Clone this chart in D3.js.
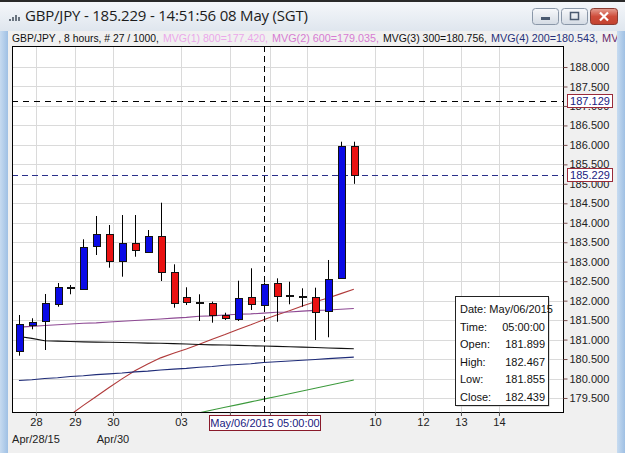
<!DOCTYPE html>
<html>
<head>
<meta charset="utf-8">
<script src="https://cdn.jsdelivr.net/npm/d3@7"></script>
<style>
body { margin: 0; background: #f0f0f0; }
svg { display: block; font-family: "Liberation Sans", Arial, sans-serif; }
</style>
</head>
<body>
<div id="chart-area"></div>
<script>
// GBP/JPY 8 hour bars, index 0 = first visible bar (Apr 28)
var opens  = [180.689, 181.382, 181.459, 181.906, 182.330, 182.299, 183.385, 183.704, 183.000, 183.472,
              183.257, 183.668, 182.743, 182.101, 181.960, 181.932, 181.632, 181.547, 182.101, 181.899,
              182.460, 182.150, 182.130, 182.101, 181.716, 182.589, 185.979];
var highs  = [181.631, 181.547, 182.171, 182.453, 182.402, 183.575, 184.174, 183.943, 184.199, 184.199,
              183.814, 184.515, 182.933, 182.343, 182.163, 181.975, 181.690, 182.512, 182.831, 182.467,
              182.573, 182.486, 182.317, 182.333, 183.044, 186.082, 186.082];
var lows   = [180.586, 181.264, 180.732, 181.844, 182.163, 182.273, 183.172, 182.846, 182.615, 183.128,
              183.250, 182.504, 181.819, 181.888, 181.477, 181.434, 181.503, 181.477, 181.760, 181.855,
              181.459, 181.906, 181.845, 180.989, 181.059, 182.574, 185.000];
var closes = [181.392, 181.459, 181.932, 182.343, 182.338, 183.385, 183.704, 183.000, 183.472, 183.283,
              183.668, 182.743, 181.947, 181.973, 181.955, 181.632, 181.562, 182.076, 181.932, 182.439,
              182.119, 182.145, 182.125, 181.716, 182.548, 185.979, 185.229];

// moving averages (null = not on screen)
var mvgBlack  = [181.08, 181.03, 180.97, 180.96, 180.95, 180.94, 180.935, 180.93, 180.925, 180.92,
                 180.91, 180.905, 180.895, 180.885, 180.875, 180.865, 180.86, 180.85, 180.84, 180.835,
                 180.825, 180.815, 180.805, 180.795, 180.785, 180.775, 180.765];
var mvgNavy   = [179.95, 179.97, 180.00, 180.02, 180.05, 180.07, 180.10, 180.12, 180.14, 180.17,
                 180.19, 180.22, 180.24, 180.26, 180.29, 180.31, 180.34, 180.36, 180.38, 180.41,
                 180.43, 180.45, 180.47, 180.49, 180.51, 180.53, 180.55];
var mvgPurple = [181.32, 181.34, 181.36, 181.38, 181.40, 181.42, 181.43, 181.45, 181.47, 181.49,
                 181.51, 181.53, 181.55, 181.57, 181.60, 181.61, 181.63, 181.65, 181.66, 181.68,
                 181.70, 181.71, 181.73, 181.75, 181.76, 181.78, 181.80];
var mvgRed    = [null, null, null, 178.84, 179.07, 179.31, 179.54, 179.77, 179.99, 180.20,
                 180.37, 180.53, 180.65, 180.76, 180.88, 181.01, 181.13, 181.26, 181.38, 181.51,
                 181.63, 181.74, 181.86, 181.97, 182.07, 182.18, 182.29];
var mvgGreen  = [null, null, null, null, null, null, null, null, null, null,
                 null, null, null, 179.05, 179.12, 179.19, 179.26, 179.33, 179.40, 179.47,
                 179.54, 179.61, 179.68, 179.75, 179.82, 179.89, 179.96];

var headerParts  = ["GBP/JPY , 8 hours, # 27 / 1000,", "MVG(1) 800=177.420,", "MVG(2) 600=179.035,",
                    "MVG(3) 300=180.756,", "MVG(4) 200=180.543,", "MV"];
var headerColors = ["#111", "#eba8ea", "#d77bd2", "#111", "#26307a", "#6a2a6a"];

var priceTicks = [179.5, 180, 180.5, 181, 181.5, 182, 182.5, 183, 183.5, 184, 184.5, 185, 185.5, 186, 186.5, 187, 187.5, 188];
// day ticks, in bar index units (weekend gaps are squeezed)
var dayTickPos    = [1.32, 4.35, 7.30, 12.58, 16.38, 19.49, 22.36, 27.64, 31.37, 34.32, 37.27];
var dayTickLabels = ["28", "29", "30", "03", "05", "06", "07", "10", "12", "13", "14"];
var monthTickPos    = [1.32, 7.30];
var monthTickLabels = ["Apr/28/15", "Apr/30"];

var cursorIndex = 19;
var cursorPrice = 187.129;
var cursorDate = "May/06/2015";
var cursorTime = "05:00:00";
var lastPrice = 185.229;

var width = 625, height = 453;
var plot = {left: 12, top: 46, right: 564, bottom: 412};

var svg = d3.select("#chart-area").append("svg").attr("width", width).attr("height", height);
var defs = svg.append("defs");

var tg = defs.append("linearGradient").attr("id", "titlebg").attr("x1", 0).attr("y1", 0).attr("x2", 0).attr("y2", 1);
tg.append("stop").attr("offset", "0%").attr("stop-color", "#f6f8fb");
tg.append("stop").attr("offset", "100%").attr("stop-color", "#dfe6ee");
var bg = defs.append("linearGradient").attr("id", "btnbg").attr("x1", 0).attr("y1", 0).attr("x2", 0).attr("y2", 1);
bg.append("stop").attr("offset", "0%").attr("stop-color", "#f8f9fb");
bg.append("stop").attr("offset", "100%").attr("stop-color", "#d4dbe4");
var cg = defs.append("linearGradient").attr("id", "closebg").attr("x1", 0).attr("y1", 0).attr("x2", 0).attr("y2", 1);
cg.append("stop").attr("offset", "0%").attr("stop-color", "#e6a093");
cg.append("stop").attr("offset", "50%").attr("stop-color", "#cf4c3a");
cg.append("stop").attr("offset", "100%").attr("stop-color", "#c2422f");
var sg = defs.append("linearGradient").attr("id", "sidebg").attr("x1", 0).attr("y1", 0).attr("x2", 1).attr("y2", 0);
sg.append("stop").attr("offset", "0%").attr("stop-color", "#c7dbf0");
sg.append("stop").attr("offset", "100%").attr("stop-color", "#9fc0e4");

defs.append("clipPath").attr("id", "plotclip").append("rect")
  .attr("x", plot.left).attr("y", plot.top).attr("width", plot.right - plot.left).attr("height", plot.bottom - plot.top);
defs.append("clipPath").attr("id", "headclip").append("rect")
  .attr("x", 10).attr("y", 30).attr("width", 607).attr("height", 16);

// window frame
svg.append("rect").attr("width", width).attr("height", height).attr("fill", "#f0f0f0");
svg.append("rect").attr("width", width).attr("height", 31).attr("fill", "url(#titlebg)");
svg.append("rect").attr("width", width).attr("height", 2).attr("fill", "#2a2a2a");
svg.append("rect").attr("x", 0).attr("y", 31).attr("width", 8).attr("height", height - 31).attr("fill", "url(#sidebg)");
svg.append("rect").attr("x", 617).attr("y", 31).attr("width", 8).attr("height", height - 31).attr("fill", "url(#sidebg)");

// title icon + text
[[9, 19, 2], [12, 17, 4], [15, 15, 6], [18, 17, 4]].forEach(function(b) {
  svg.append("rect").attr("x", b[0]).attr("y", b[1]).attr("width", 2).attr("height", b[2]).attr("fill", "#6a7480");
});
svg.append("text").attr("x", 25).attr("y", 21).attr("font-size", "15px").attr("fill", "#1c1c1c")
  .style("font-family", "'Open Sans', 'DejaVu Sans', sans-serif").attr("textLength", 283)
  .text("GBP/JPY - " + lastPrice.toFixed(3) + " - 14:51:56  08 May (SGT)");

// window buttons
svg.append("rect").attr("x", 532.5).attr("y", 8.5).attr("width", 26).attr("height", 16).attr("rx", 3)
  .attr("fill", "url(#btnbg)").attr("stroke", "#8a97a8");
svg.append("rect").attr("x", 541).attr("y", 17).attr("width", 9).attr("height", 3).attr("fill", "#4a5a70");
svg.append("rect").attr("x", 561.5).attr("y", 8.5).attr("width", 26).attr("height", 16).attr("rx", 3)
  .attr("fill", "url(#btnbg)").attr("stroke", "#8a97a8");
svg.append("rect").attr("x", 570.5).attr("y", 12.5).attr("width", 8).attr("height", 7)
  .attr("fill", "none").attr("stroke", "#4a5a70").attr("stroke-width", 1.5);
svg.append("rect").attr("x", 590.5).attr("y", 8.5).attr("width", 27).attr("height", 16).attr("rx", 3)
  .attr("fill", "url(#closebg)").attr("stroke", "#8a3a30");
svg.append("path").attr("d", "M600,12.5 L608,20.5 M608,12.5 L600,20.5").attr("stroke", "#fff").attr("stroke-width", 2.2);

// header line, each part placed like the terminal lays it out
var headX = [12, 163, 272, 383, 491, 602];
var head = svg.append("g").attr("clip-path", "url(#headclip)");
headerParts.forEach(function(t, i) {
  var last = i === headerParts.length - 1;
  var tx = head.append("text").attr("x", headX[i]).attr("y", 42).attr("font-size", "11px")
    .attr("fill", headerColors[i]).text(t);
  if (!last) tx.attr("textLength", headX[i + 1] - headX[i] - 4).attr("lengthAdjust", "spacingAndGlyphs");
});

// plot area
var x = d3.scaleLinear().domain([-0.54, 42.32]).range([plot.left, plot.right]);
var y = d3.scaleLinear().domain([179.14, 188.54]).range([plot.bottom, plot.top]);

svg.append("rect").attr("x", plot.left).attr("y", plot.top).attr("width", plot.right - plot.left)
  .attr("height", plot.bottom - plot.top).attr("fill", "#fff");

var grid = svg.append("g").attr("shape-rendering", "crispEdges").attr("stroke", "#dadada");
grid.selectAll(".hg").data(priceTicks).enter().append("line").attr("class", "hg")
  .attr("x1", plot.left).attr("x2", plot.right).attr("y1", function(d) { return Math.round(y(d)) + 0.5; })
  .attr("y2", function(d) { return Math.round(y(d)) + 0.5; });
grid.selectAll(".vg").data(dayTickPos).enter().append("line").attr("class", "vg")
  .attr("y1", plot.top).attr("y2", plot.bottom).attr("x1", function(d) { return Math.round(x(d)) + 0.5; })
  .attr("x2", function(d) { return Math.round(x(d)) + 0.5; });

var g = svg.append("g").attr("clip-path", "url(#plotclip)");

// moving averages
var mvgs = [
  {vals: mvgGreen, color: "#3c9a3c"},
  {vals: mvgRed, color: "#b03a3a"},
  {vals: mvgNavy, color: "#1f2c78"},
  {vals: mvgBlack, color: "#111"},
  {vals: mvgPurple, color: "#8e4a94"}
];
var line = d3.line().defined(function(d) { return d != null; })
  .x(function(d, i) { return x(i); }).y(function(d) { return y(d); });
mvgs.forEach(function(m) {
  g.append("path").attr("d", line(m.vals)).attr("fill", "none").attr("stroke", m.color).attr("stroke-width", 1.1);
});

// crosshair + last price lines
g.append("line").attr("x1", Math.round(x(cursorIndex)) + 0.5).attr("x2", Math.round(x(cursorIndex)) + 0.5)
  .attr("y1", plot.top).attr("y2", plot.bottom).attr("stroke", "#000").attr("stroke-dasharray", "6,4");
g.append("line").attr("x1", plot.left).attr("x2", plot.right)
  .attr("y1", Math.round(y(cursorPrice)) + 0.5).attr("y2", Math.round(y(cursorPrice)) + 0.5)
  .attr("stroke", "#000").attr("stroke-dasharray", "6,5");
g.append("line").attr("x1", plot.left).attr("x2", plot.right)
  .attr("y1", Math.round(y(lastPrice)) + 0.5).attr("y2", Math.round(y(lastPrice)) + 0.5)
  .attr("stroke", "#2a2f8a").attr("stroke-dasharray", "6,4");

// candles
var idx = d3.range(opens.length);
g.selectAll(".wick").data(idx).enter().append("line").attr("class", "wick")
  .attr("x1", function(i) { return Math.round(x(i)) + 0.5; }).attr("x2", function(i) { return Math.round(x(i)) + 0.5; })
  .attr("y1", function(i) { return y(highs[i]); }).attr("y2", function(i) { return y(lows[i]); })
  .attr("stroke", "#000");
g.selectAll(".body").data(idx).enter().append("rect").attr("class", "body")
  .attr("x", function(i) { return Math.round(x(i)) - 3; }).attr("width", 7)
  .attr("y", function(i) { return Math.round(y(Math.max(opens[i], closes[i]))) + 0.5; })
  .attr("height", function(i) { return Math.max(1, Math.round(Math.abs(y(opens[i]) - y(closes[i])))); })
  .attr("fill", function(i) { return closes[i] >= opens[i] ? "#0a0ae6" : "#ea1212"; })
  .attr("stroke", "#111").attr("shape-rendering", "crispEdges");

svg.append("rect").attr("x", plot.left + 0.5).attr("y", plot.top + 0.5).attr("width", plot.right - plot.left - 1)
  .attr("height", plot.bottom - plot.top).attr("fill", "none").attr("stroke", "#000");

// right price axis
var yAxis = d3.axisRight(y).tickValues(priceTicks).tickFormat(d3.format(".3f")).tickSize(4).tickPadding(2);
var ya = svg.append("g").attr("transform", "translate(" + (plot.right - 0.5) + ",0)").call(yAxis);
ya.select(".domain").remove();
ya.selectAll("line").attr("stroke", "#7a5050");
ya.selectAll("text").attr("font-size", "11px").attr("fill", "#222").style("font-family", "'Liberation Sans', Arial, sans-serif");

// date label under the cursor (labels it covers are not drawn)
var cx = Math.round(x(cursorIndex));
var boxL = cx - 54.5, boxR = cx + 56.5;

var xAxis = d3.axisBottom(x).tickValues(dayTickPos).tickSize(4).tickPadding(2)
  .tickFormat(function(d, i) { return (x(d) > boxL - 6 && x(d) < boxR + 6) ? "" : dayTickLabels[i]; });
var xa = svg.append("g").attr("transform", "translate(0," + plot.bottom + ")").call(xAxis);
xa.select(".domain").remove();
xa.selectAll("line").attr("stroke", "#555");
xa.selectAll("text").attr("font-size", "11px").attr("fill", "#222").style("font-family", "'Liberation Sans', Arial, sans-serif");

svg.selectAll(".month").data(monthTickPos).enter().append("text").attr("class", "month")
  .attr("x", function(d) { return x(d); }).attr("y", 443).attr("text-anchor", "middle")
  .attr("font-size", "11px").attr("fill", "#222").text(function(d, i) { return monthTickLabels[i]; });

svg.append("rect").attr("x", boxL).attr("y", 415.5).attr("width", boxR - boxL).attr("height", 15)
  .attr("fill", "#fff").attr("stroke", "#8a1a2a");
svg.append("text").attr("x", cx + 1).attr("y", 427).attr("text-anchor", "middle").attr("font-size", "11px")
  .attr("fill", "#1a1a80").text(cursorDate + " " + cursorTime);

// price labels on the axis
[cursorPrice, lastPrice].forEach(function(p) {
  var yy = Math.round(y(p));
  svg.append("rect").attr("x", 567.5).attr("y", yy - 6.5).attr("width", 45).attr("height", 13)
    .attr("fill", "#fff").attr("stroke", "#9a2a3a");
  svg.append("text").attr("x", 590).attr("y", yy + 4).attr("text-anchor", "middle").attr("font-size", "11px")
    .attr("fill", "#1a1a80").text(d3.format(".3f")(p));
});

// info box for the bar under the cursor
var box = svg.append("g").attr("transform", "translate(455,296)");
box.append("rect").attr("x", 1.5).attr("y", 1.5).attr("width", 93).attr("height", 109).attr("fill", "#bbb");
box.append("rect").attr("x", 0.5).attr("y", 0.5).attr("width", 93).attr("height", 109).attr("fill", "#fff").attr("stroke", "#222");
var info = [
  ["Date: " + cursorDate, ""],
  ["Time:", cursorTime],
  ["Open:", opens[cursorIndex].toFixed(3)],
  ["High:", highs[cursorIndex].toFixed(3)],
  ["Low:", lows[cursorIndex].toFixed(3)],
  ["Close:", closes[cursorIndex].toFixed(3)]
];
info.forEach(function(r, k) {
  box.append("text").attr("x", 5).attr("y", 17 + k * 17.5).attr("font-size", "11px").attr("fill", "#111").text(r[0]);
  box.append("text").attr("x", 90).attr("y", 17 + k * 17.5).attr("text-anchor", "end").attr("font-size", "11px").attr("fill", "#111").text(r[1]);
});
</script>
</body>
</html>
